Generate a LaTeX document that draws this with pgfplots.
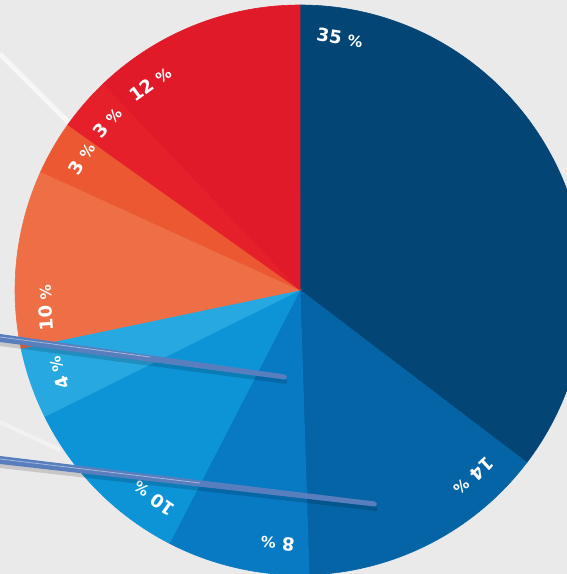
\documentclass[border=0pt]{standalone}
\usepackage{fontspec}
\setmainfont{DejaVu Sans}
\usepackage{pgfplots}
\pgfplotsset{compat=1.18}
\definecolor{bgc}{RGB}{234,234,234}
\definecolor{cA}{RGB}{3,70,118}
\definecolor{cB}{RGB}{5,100,165}
\definecolor{cC}{RGB}{8,122,196}
\definecolor{cD}{RGB}{12,148,215}
\definecolor{cE}{RGB}{40,168,225}
\definecolor{cF}{RGB}{238,110,70}
\definecolor{cG}{RGB}{235,88,50}
\definecolor{cH}{RGB}{230,32,42}
\definecolor{cI}{RGB}{225,26,42}
\definecolor{lineblue}{RGB}{88,126,190}
% slice: #1 = cumulative start (percent), #2 = value (percent), #3 = colour; the 9 values sum to 99
\newcommand{\slice}[3]{\filldraw[#3, line width=0.6pt] (axis cs:300,284) -- ++({90-(#1)*(360/99)}:285pt) arc[start angle={90-(#1)*(360/99)}, end angle={90-(#1+#2)*(360/99)}, radius=285pt] -- cycle;}
\newcommand{\lbl}[2]{\node[rotate={-(#1)}, text=white, inner sep=0pt, font=\fontsize{18}{18}\selectfont\bfseries] at (axis cs:{300+255*sin(#1)},{284+255*cos(#1)}) {#2};}
\newcommand{\pct}{{\fontsize{15}{15}\selectfont\%}}
\begin{document}
\begin{tikzpicture}
\begin{axis}[x=1pt, y=1pt, xmin=0, xmax=567, ymin=0, ymax=574, hide axis, clip=true]
\fill[bgc] (axis cs:0,0) rectangle (axis cs:567,574);
\draw[white, opacity=0.6, line width=5pt] (axis cs:0,520) -- (axis cs:80,440);
\draw[white, opacity=0.4, line width=4pt] (axis cs:0,152) -- (axis cs:60,124);
% data: 35, 14, 8, 10, 4, 10, 3, 3, 12
\slice{0}{35}{cA}
\slice{35}{14}{cB}
\slice{49}{8}{cC}
\slice{57}{10}{cD}
\slice{67}{4}{cE}
\slice{71}{10}{cF}
\slice{81}{3}{cG}
\slice{84}{3}{cH}
\slice{87}{12}{cI}
\lbl{9}{35 \pct}
\lbl{137}{14 \pct}
\lbl{185}{8 \pct}
\lbl{215}{10 \pct}
\lbl{251}{4 \pct}
\lbl{266}{10 \pct}
\lbl{301}{3 \pct}
\lbl{311}{3 \pct}
\lbl{324}{12 \pct}
% callout lines
\fill[black, opacity=0.15] (axis cs:0,233) -- (axis cs:287,194) -- (axis cs:287,190) -- (axis cs:0,228) -- cycle;
\fill[black, opacity=0.15] (axis cs:0,111) -- (axis cs:377,67) -- (axis cs:377,63) -- (axis cs:0,106) -- cycle;
\fill[lineblue] (axis cs:0,240) -- (axis cs:285,199.5) -- (axis cs:287,197) -- (axis cs:285,194.5) -- (axis cs:0,232) -- cycle;
\fill[lineblue] (axis cs:0,118) -- (axis cs:375,72.5) -- (axis cs:377,70) -- (axis cs:375,67.5) -- (axis cs:0,110) -- cycle;
\draw[white, opacity=0.45, line width=0.8pt] (axis cs:0,237) -- (axis cs:150,217);
\draw[white, opacity=0.45, line width=0.8pt] (axis cs:0,115) -- (axis cs:200,91);
\end{axis}
\end{tikzpicture}
\end{document}
